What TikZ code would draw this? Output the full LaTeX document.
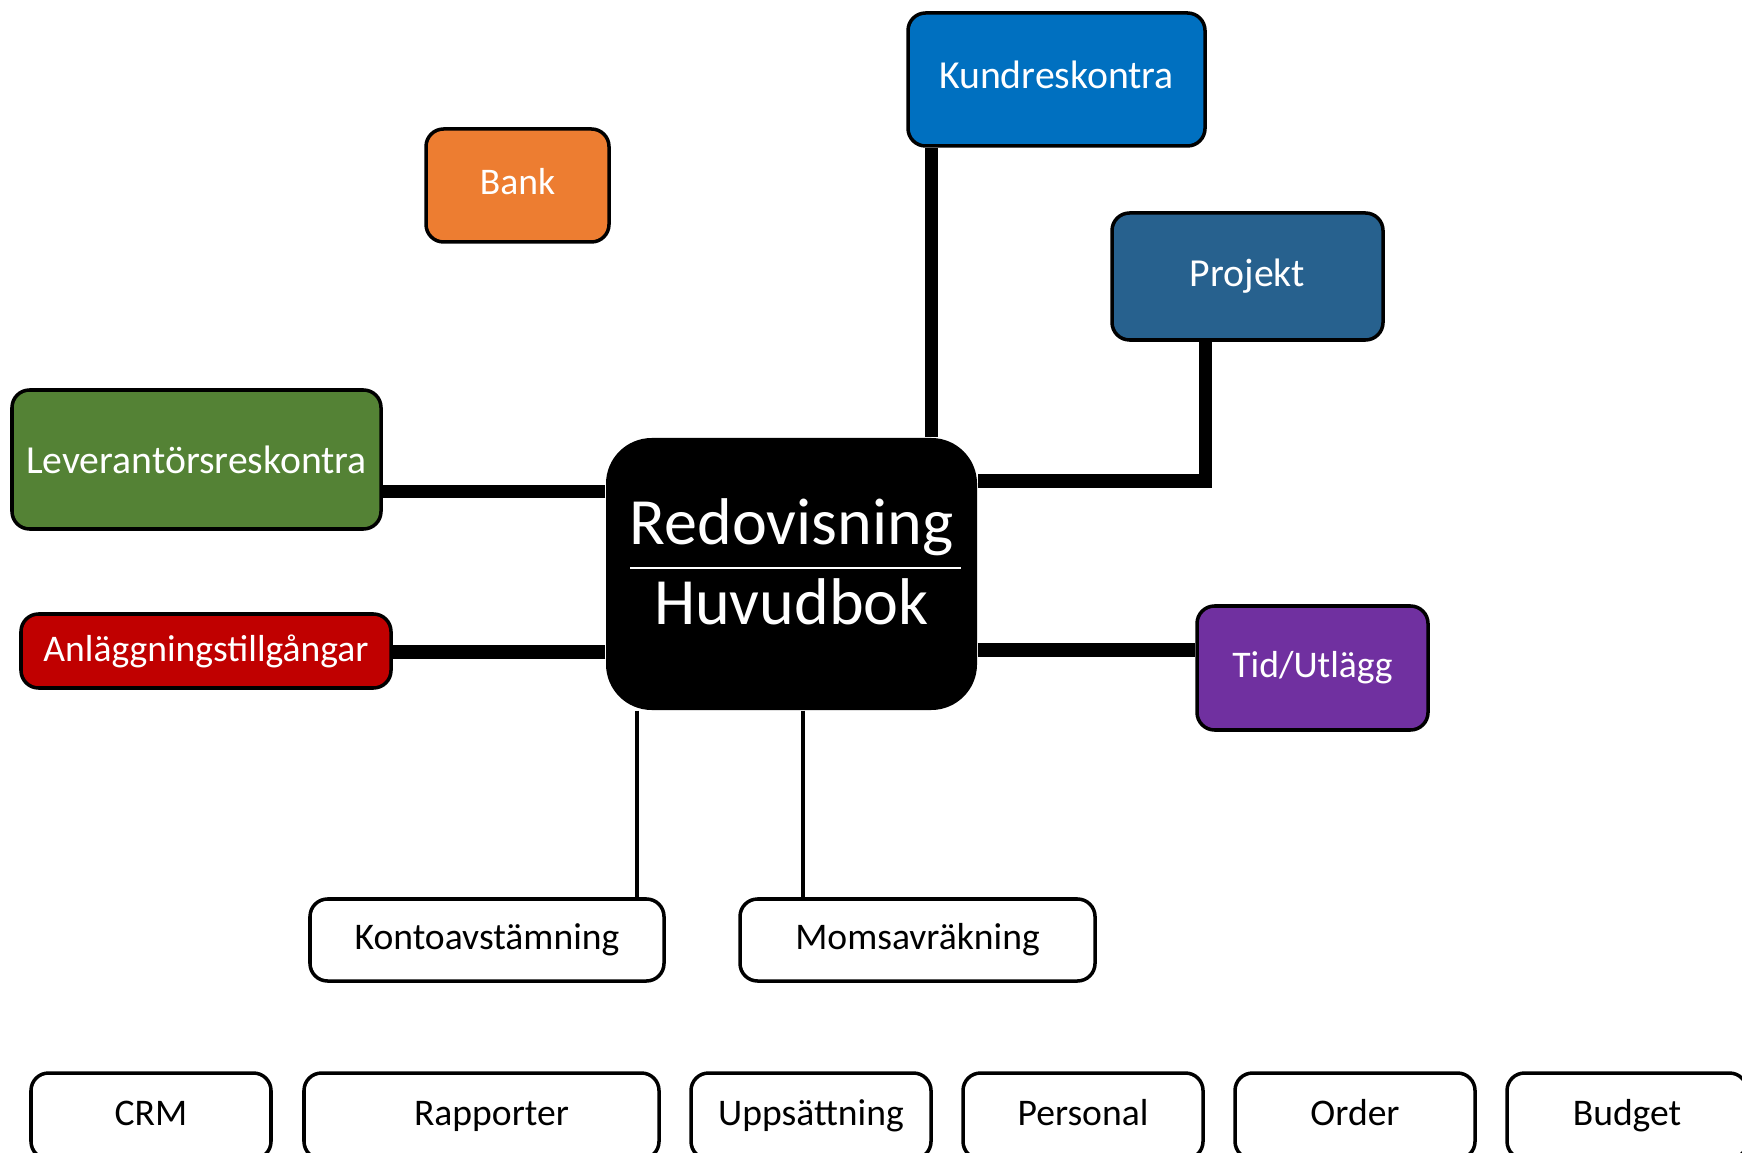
\documentclass[tikz,border=0pt]{standalone}
\usepackage{fontspec}
\setmainfont{Carlito}
\usetikzlibrary{backgrounds}

\definecolor{kundblue}{HTML}{0070C0}
\definecolor{bankorange}{HTML}{ED7D31}
\definecolor{projblue}{HTML}{27618E}
\definecolor{levgreen}{HTML}{548235}
\definecolor{anlred}{HTML}{C00000}
\definecolor{tidpurple}{HTML}{7030A0}

\begin{document}
\begin{tikzpicture}[
  every node/.style={font=\fontsize{10.7pt}{12pt}\selectfont},
  widetext/.style={font=\fontsize{11.3pt}{13pt}\selectfont},
  module/.style={draw, line width=1pt, rounded corners=5pt, text=white, align=center, inner sep=2pt},
  plainbox/.style={draw, line width=1pt, rounded corners=5pt, fill=white, align=center, inner sep=2pt, text height=1.6ex, text depth=0.5ex},
  hubbox/.style={fill=black, rounded corners=13pt, minimum width=3.71cm, minimum height=2.72cm},
  hubtext/.style={text=white, anchor=base, font=\fontsize{18.8pt}{22pt}\selectfont},
  link/.style={line width=3.7pt},
  thinlink/.style={line width=0.9pt}
]

  \useasboundingbox (0,0) rectangle (17.42,-11.53);

  \node[module, widetext, fill=kundblue, text depth=2.5pt, minimum width=2.97cm, minimum height=1.33cm] (kund) at (10.565,-0.795) {Kundreskontra};
  \node[module, fill=bankorange, text depth=2.5pt, minimum width=1.83cm, minimum height=1.13cm]         (bank) at (5.175,-1.855)  {Bank};
  \node[module, widetext, fill=projblue, minimum width=2.71cm, minimum height=1.27cm]                   (proj) at (12.475,-2.765) {Projekt};
  \node[module, widetext, fill=levgreen, minimum width=3.69cm, minimum height=1.39cm]                   (lev)  at (1.965,-4.595)  {Leverantörsreskontra};
  \node[module, fill=anlred, minimum width=3.70cm, minimum height=0.74cm]                               (anl)  at (2.06,-6.51)    {Anläggningstillgångar};
  \node[module, fill=tidpurple, minimum width=2.31cm, minimum height=1.24cm]                            (tid)  at (13.125,-6.68)  {Tid/Utlägg};


  \node[hubbox] (hub) at (7.915,-5.74) {};
  \node[hubtext] (hubtop)    at ([yshift=0.29cm]hub.center)  {Redovisning};
  \node[hubtext] (hubbottom) at ([yshift=-0.50cm]hub.center) {Huvudbok};
  \draw[white, line width=0.6pt] ([xshift=-1.615cm,yshift=0.06cm]hub.center) -- ([xshift=1.695cm,yshift=0.06cm]hub.center);


  \node[plainbox, minimum width=3.54cm, minimum height=0.82cm] (konto) at (4.87,-9.40)  {Kontoavstämning};
  \node[plainbox, minimum width=3.55cm, minimum height=0.82cm] (moms)  at (9.175,-9.40) {Momsavräkning};


  \node[plainbox, minimum width=2.40cm, minimum height=0.86cm] (crm)     at (1.51,-11.16)  {CRM};
  \node[plainbox, minimum width=3.55cm, minimum height=0.86cm] (rapp)    at (4.815,-11.16) {\hspace{0.2cm}Rapporter};
  \node[plainbox, minimum width=2.40cm, minimum height=0.86cm] (upps)    at (8.11,-11.16)  {Uppsättning};
  \node[plainbox, minimum width=2.40cm, minimum height=0.86cm] (pers)    at (10.83,-11.16) {Personal};
  \node[plainbox, minimum width=2.40cm, minimum height=0.86cm] (order)   at (13.55,-11.16) {Order};
  \node[plainbox, minimum width=2.40cm, minimum height=0.86cm] (budget)  at (16.27,-11.16) {Budget};

  \begin{pgfonlayer}{background}
    \coordinate (kundfoot) at ([xshift=0.25cm]kund.south west);
    \draw[link] (kundfoot) -- (kundfoot |- hub.north);

    \coordinate (projjoin) at ([yshift=0.93cm]hub.east);
    \draw[link] ([xshift=-0.42cm]proj.south) |- (projjoin);

    \coordinate (levjoin) at ([yshift=0.82cm]hub.west);
    \draw[link] (levjoin) -- (levjoin -| lev.east);

    \coordinate (anljoin) at ([yshift=-0.78cm]hub.west);
    \draw[link] (anljoin) -- (anljoin -| anl.east);

    \coordinate (tidjoin) at ([yshift=-0.76cm]hub.east);
    \draw[link] (tidjoin) -- (tidjoin -| tid.west);


    \coordinate (kontojoin) at ([xshift=-1.545cm]hub.south);
    \draw[thinlink] (kontojoin) -- (kontojoin |- konto.north);

    \coordinate (momsjoin) at ([xshift=0.115cm]hub.south);
    \draw[thinlink] (momsjoin) -- (momsjoin |- moms.north);
  \end{pgfonlayer}
\end{tikzpicture}
\end{document}
